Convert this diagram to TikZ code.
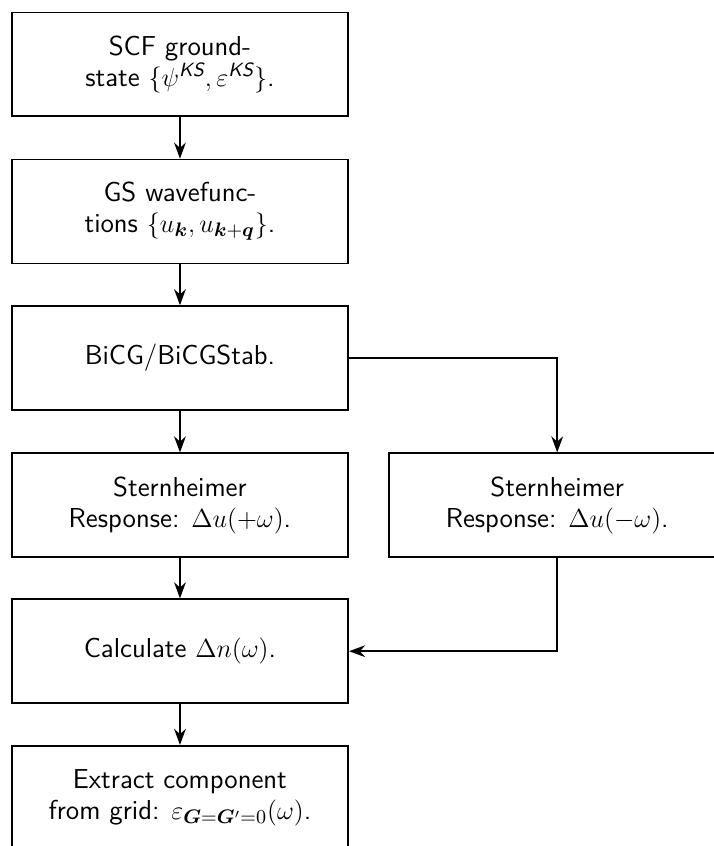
\documentclass[tikz,border=0pt]{standalone}
\usepackage{amsmath}
\usepackage{bm}
\usetikzlibrary{arrows.meta}
\begin{document}
\begin{tikzpicture}[thick,
  box/.style={draw, rectangle, align=center, font=\sffamily\fontsize{12.6}{14}\selectfont,
    minimum width=5.44cm, minimum height=1.68cm},
  flow/.style={-{Stealth[length=2.6mm,width=1.9mm]}}]
\useasboundingbox (0,0) rectangle (11.53,-13.68);
\node[box] (scf) at (2.91,-1.04) {SCF ground-\\state $\{\psi^{\textit{KS}},\varepsilon^{\textit{KS}}\}$.};
\node[box] (gs) at (2.91,-3.42) {GS wavefunc-\\tions $\{u_{\bm{k}},u_{\bm{k}+\bm{q}}\}$.};
\node[box] (bicg) at (2.91,-5.79) {BiCG/BiCGStab.};
\node[box] (sternp) at (2.91,-8.17) {Sternheimer\\Response: $\Delta u(+\omega)$.};
\node[box] (sternm) at (9.01,-8.17) {Sternheimer\\Response: $\Delta u(-\omega)$.};
\node[box] (calc) at (2.91,-10.53) {Calculate $\Delta n(\omega)$.};
\node[box] (extract) at (2.91,-12.90) {Extract component\\from grid: $\varepsilon_{\bm{G}=\bm{G}'=0}(\omega)$.};
\draw[flow] (scf)--(gs);
\draw[flow] (gs)--(bicg);
\draw[flow] (bicg)--(sternp);
\draw[flow] (bicg.east)-|(sternm.north);
\draw[flow] (sternp)--(calc);
\draw[flow] (sternm.south)|-(calc.east);
\draw[flow] (calc)--(extract);
\end{tikzpicture}
\end{document}
